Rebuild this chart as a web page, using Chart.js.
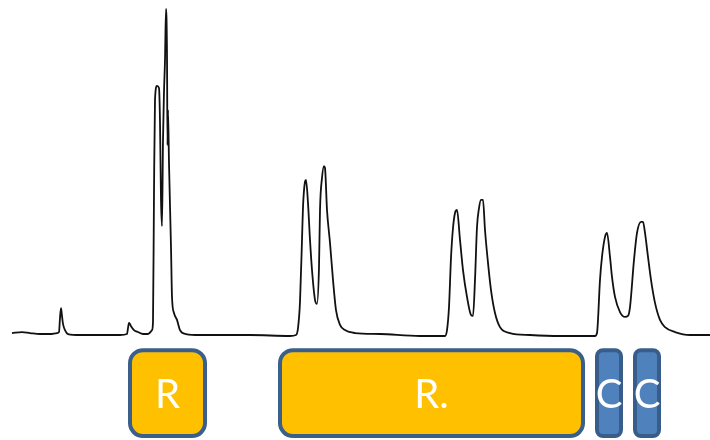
<!DOCTYPE html>
<html>
<head>
<meta charset="utf-8">
<script src="https://cdn.jsdelivr.net/npm/chart.js@4.4.1/dist/chart.umd.min.js"></script>
<style>
  html, body { margin: 0; padding: 0; background: #fff; }
  #wrap { width: 710px; height: 440px; }
</style>
</head>
<body>
<div id="wrap"><canvas id="spectrum"></canvas></div>
<script>
// --- Spectrum trace (position, relative intensity) ---
const positions = [
  12, 22, 30, 40, 50, 57, 59, 60, 61, 62, 63, 65, 68, 80, 100, 120,
  127, 128, 129, 131, 134, 138, 143, 148, 152, 153, 154, 155, 157, 159,
  160, 161, 162, 163, 164, 165, 166, 167, 167.5, 168, 169, 171, 172, 174,
  177, 180, 186, 200, 250, 290, 296, 298, 300, 302, 303, 305, 306, 308,
  310, 312, 315, 317, 319, 320, 322, 324, 325, 327, 330, 333, 336, 340,
  345, 355, 380, 420, 445, 447, 449, 451, 453, 455, 457, 460, 463, 467,
  471, 473, 475, 477, 479, 481, 483, 485, 488, 491, 495, 500, 510, 530,
  560, 595, 597, 600, 602, 605, 607, 610, 612, 615, 620, 625, 628, 630,
  634, 637, 641, 643, 645, 648, 651, 655, 660, 665, 675, 690, 710
];
const intensity = [
  0.9, 1.2, 0.9, 0.6, 0.6, 0.9, 1.2, 5.5, 8.5, 6.1, 3.7, 1.8, 0.6, 0.3, 0.3, 0.3,
  0.6, 2.4, 4.0, 3.0, 1.8, 1.2, 0.6, 0.6, 1.8, 4.3, 43.9, 72.0, 76.2, 75.6,
  65.2, 41.5, 33.5, 59.8, 74.4, 84.1, 99.7, 85.7, 58.2, 68.9, 52.7, 27.1, 11.9, 7.0,
  4.9, 1.8, 0.6, 0.3, 0.3, 0.0, 0.3, 2.4, 10.4, 29.3, 39.3, 47.0, 47.6, 40.5,
  29.3, 20.1, 11.0, 9.8, 21.0, 38.4, 48.2, 51.8, 51.2, 38.4, 28.4, 17.1, 7.9, 3.4,
  1.8, 0.9, 0.6, 0.0, 0.0, 1.8, 8.8, 23.8, 32.9, 37.5, 38.4, 29.3, 20.1, 11.9,
  6.4, 6.1, 17.1, 33.2, 39.0, 41.5, 41.5, 32.3, 22.3, 14.0, 7.0, 2.7, 0.9, 0.3,
  0.0, 0.0, 0.9, 17.1, 24.1, 30.2, 31.4, 24.1, 18.0, 11.9, 7.3, 5.8, 6.1, 8.8,
  23.2, 31.4, 34.8, 34.8, 31.4, 24.1, 17.1, 10.1, 4.9, 2.7, 1.2, 0.3, 0.3
];

// --- Marked regions under the trace ---
const regionLabels = ['R', 'R.', 'C', 'C'];
const regionStart = [128, 278, 595, 633];
const regionEnd = [207, 585, 623, 661];
const regionKind = ['R', 'R', 'C', 'C'];

// --- Styles ---
const kindFill = { R: '#FFC000', C: '#4F81BD' };
const kindBorder = { R: '#3A5F8B', C: '#385D8A' };
const kindRadius = { R: 13, C: 6 };

// draw the region boxes in data space using the chart's scales
const regionBoxes = {
  id: 'regionBoxes',
  afterDatasetsDraw(chart) {
    const { ctx, scales } = chart;
    const top = scales.y.getPixelForValue(-3.7);
    const bottom = scales.y.getPixelForValue(-31.1);
    const bw = 4;
    ctx.save();
    regionLabels.forEach((label, i) => {
      const kind = regionKind[i];
      const x0 = scales.x.getPixelForValue(regionStart[i]) + bw / 2;
      const x1 = scales.x.getPixelForValue(regionEnd[i]) - bw / 2;
      const y0 = top + bw / 2;
      const y1 = bottom - bw / 2;
      ctx.beginPath();
      ctx.roundRect(x0, y0, x1 - x0, y1 - y0, kindRadius[kind]);
      ctx.fillStyle = kindFill[kind];
      ctx.fill();
      ctx.lineWidth = bw;
      ctx.strokeStyle = kindBorder[kind];
      ctx.stroke();

      ctx.fillStyle = '#fff';
      ctx.font = '40px Lato';
      ctx.textAlign = 'center';
      ctx.textBaseline = 'middle';
      ctx.fillText(label, (x0 + x1) / 2, (y0 + y1) / 2 + 2);
    });
    ctx.restore();
  }
};

const ctx = document.getElementById('spectrum').getContext('2d');
new Chart(ctx, {
  type: 'line',
  data: {
    datasets: [{
      data: positions.map((p, i) => ({ x: p, y: intensity[i] })),
      borderColor: '#111',
      borderWidth: 1.8,
      pointRadius: 0,
      cubicInterpolationMode: 'monotone',
      fill: false
    }]
  },
  options: {
    responsive: true,
    maintainAspectRatio: false,
    animation: false,
    layout: { padding: 0 },
    plugins: {
      legend: { display: false },
      tooltip: { enabled: false }
    },
    scales: {
      x: { type: 'linear', display: false, min: 0, max: 710 },
      y: { display: false, min: -31.7, max: 102.4 }
    }
  },
  plugins: [regionBoxes]
});
</script>
</body>
</html>
